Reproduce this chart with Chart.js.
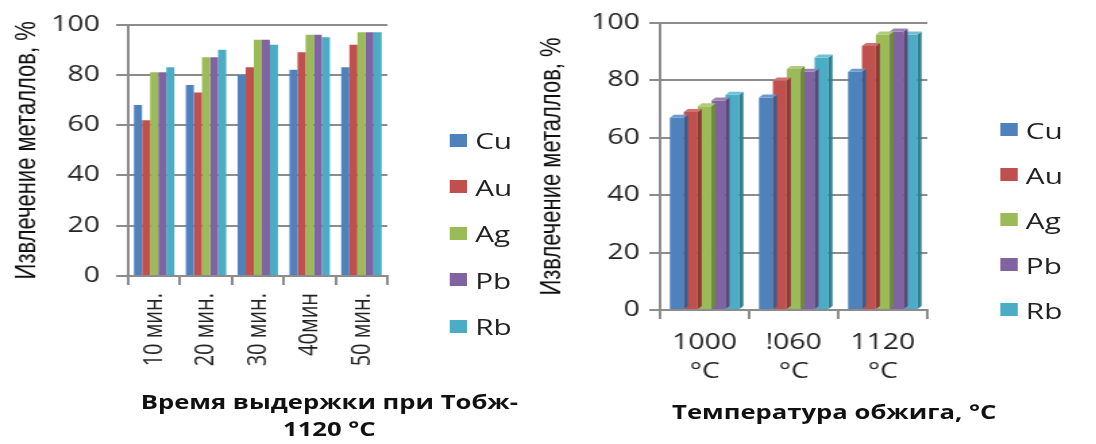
<!DOCTYPE html>
<html lang="ru">
<head>
<meta charset="utf-8">
<title>Извлечение металлов</title>
<script src="https://cdn.jsdelivr.net/npm/chart.js@4/dist/chart.umd.min.js"></script>
<style>
    html, body { margin: 0; padding: 0; background: #fff; overflow: hidden; }
    #page {
        position: absolute; left: 0; top: 0;
        width: 812px; height: 444px;
        transform: scaleX(1.3498); transform-origin: 0 0;
    }
    canvas { position: absolute; top: 0; }
    .legend { position: absolute; font-family: "Open Sans", sans-serif; font-size: 22px; color: #222; }
    .legend .item { display: flex; align-items: center; }
    .legend .box { width: 13px; height: 13px; margin-right: 6px; }
    .xtitle {
        position: absolute; width: 400px; text-align: center;
        font-family: "Open Sans", sans-serif; font-weight: bold; font-size: 19px;
        line-height: 27px; color: #111;
    }
</style>
</head>
<body>
<div id="page">
    <canvas id="chartTiempo" width="390" height="444" style="left:0;width:390px;height:444px"></canvas>
    <canvas id="chartTemp" width="422" height="444" style="left:390px;width:422px;height:444px"></canvas>
    <div class="legend" id="legendTiempo" style="left:333px;top:117px"></div>
    <div class="legend" id="legendTemp" style="left:741px;top:107px"></div>
    <div class="xtitle" style="left:44px;top:389px">Время выдержки при Тобж-<br>1120 °C</div>
    <div class="xtitle" style="left:418px;top:399px">Температура обжига, °C</div>
</div>
<script>
// Metales
const metales = ['Cu', 'Au', 'Ag', 'Pb', 'Rb'];

// Gráfico 1: tiempo de exposición a 1120 °C
const tiempos = ['10 мин.', '20 мин.', '30 мин.', '40мин', '50 мин.'];
const tiempoCu = [68, 76, 80, 82, 83];
const tiempoAu = [62, 73, 83, 89, 92];
const tiempoAg = [81, 87, 94, 96, 97];
const tiempoPb = [81, 87, 94, 96, 97];
const tiempoRb = [83, 90, 92, 95, 97];

// Gráfico 2: temperatura de tostación
const temperaturas = [['1000', '°C'], ['!060', '°C'], ['1120', '°C']];
const tempCu = [67, 74, 83];
const tempAu = [69, 80, 92];
const tempAg = [71, 84, 96];
const tempPb = [73, 83, 97];
const tempRb = [75, 88, 96];

const yTitulo = 'Извлечение металлов, %';

const colores = ['#4F81BD', '#C0504D', '#9BBB59', '#8064A2', '#4BACC6'];
const coloresLado = ['#375E8C', '#8E3836', '#6F8A3C', '#5B4676', '#2F7F93'];
const coloresTapa = ['#6F98CB', '#CF716E', '#B0CB7A', '#9A82B8', '#72C0D4'];
const gris = '#8C8C8C';

// Caras laterales para dar efecto 3D
const profundidad = {
    id: 'profundidad',
    afterDatasetDraw(chart, args) {
        const ctx = chart.ctx;
        const i = args.index;
        const d = 3;
        args.meta.data.forEach(bar => {
            const { x, y, base, width } = bar.getProps(['x', 'y', 'base', 'width'], true);
            const l = x - width / 2, r = x + width / 2;
            ctx.save();
            ctx.fillStyle = coloresLado[i];
            ctx.beginPath();
            ctx.moveTo(r, y); ctx.lineTo(r + d, y - d); ctx.lineTo(r + d, base - d); ctx.lineTo(r, base);
            ctx.closePath(); ctx.fill();
            ctx.fillStyle = coloresTapa[i];
            ctx.beginPath();
            ctx.moveTo(l, y); ctx.lineTo(l + d, y - d); ctx.lineTo(r + d, y - d); ctx.lineTo(r, y);
            ctx.closePath(); ctx.fill();
            ctx.restore();
        });
    }
};

function crearDatasets(series) {
    return series.map((valores, i) => ({
        label: metales[i],
        data: valores,
        backgroundColor: colores[i],
        borderWidth: 0,
        barPercentage: 1.0,
        categoryPercentage: 0.78
    }));
}

function crearLeyenda(id, alto) {
    const cont = document.getElementById(id);
    metales.forEach((m, i) => {
        const item = document.createElement('div');
        item.className = 'item';
        item.style.height = alto + 'px';
        item.innerHTML = '<span class="box" style="background:' + colores[i] + '"></span><span>' + m + '</span>';
        cont.appendChild(item);
    });
}

function opciones(cfg) {
    return {
        responsive: false,
        animation: false,
        events: [],
        layout: { padding: { top: cfg.top, right: cfg.right, bottom: 0, left: 0 } },
        plugins: { legend: { display: false }, tooltip: { enabled: false } },
        scales: {
            x: {
                grid: { drawOnChartArea: false, color: gris, lineWidth: 2, tickLength: 9, offset: true },
                border: { color: gris, width: 2 },
                ticks: {
                    color: '#222',
                    font: { family: 'Open Sans', size: cfg.xFont, lineHeight: 1.35 },
                    padding: cfg.xPad,
                    autoSkip: false,
                    minRotation: cfg.rot,
                    maxRotation: cfg.rot
                },
                afterFit: s => { s.height = cfg.xAlto; }
            },
            y: {
                min: 0,
                max: 100,
                grid: { color: gris, lineWidth: 2, tickLength: cfg.tick },
                border: { color: gris, width: 2 },
                ticks: {
                    stepSize: 20,
                    color: '#222',
                    font: { family: 'Open Sans', size: 21 },
                    padding: cfg.yPad
                },
                title: {
                    display: true,
                    text: yTitulo,
                    color: '#111',
                    font: { family: 'Liberation Sans', size: 22 },
                    padding: { top: cfg.tituloPad, bottom: 0 }
                },
                afterFit: s => { s.width = cfg.yAncho; }
            }
        }
    };
}

new Chart(document.getElementById('chartTiempo'), {
    type: 'bar',
    data: {
        labels: tiempos,
        datasets: crearDatasets([tiempoCu, tiempoAu, tiempoAg, tiempoPb, tiempoRb])
    },
    options: opciones({ top: 22, right: 103, xAlto: 168, yAncho: 95, tick: 9, yPad: 12,
                        xFont: 20, xPad: 8, rot: 90, tituloPad: 7 })
});

new Chart(document.getElementById('chartTemp'), {
    type: 'bar',
    data: {
        labels: temperaturas,
        datasets: crearDatasets([tempCu, tempAu, tempAg, tempPb, tempRb])
    },
    options: opciones({ top: 23, right: 125, xAlto: 134, yAncho: 99, tick: 8, yPad: 7,
                        xFont: 21, xPad: 10, rot: 0, tituloPad: 6 }),
    plugins: [profundidad]
});

crearLeyenda('legendTiempo', 46.5);
crearLeyenda('legendTemp', 45);
</script>
</body>
</html>
